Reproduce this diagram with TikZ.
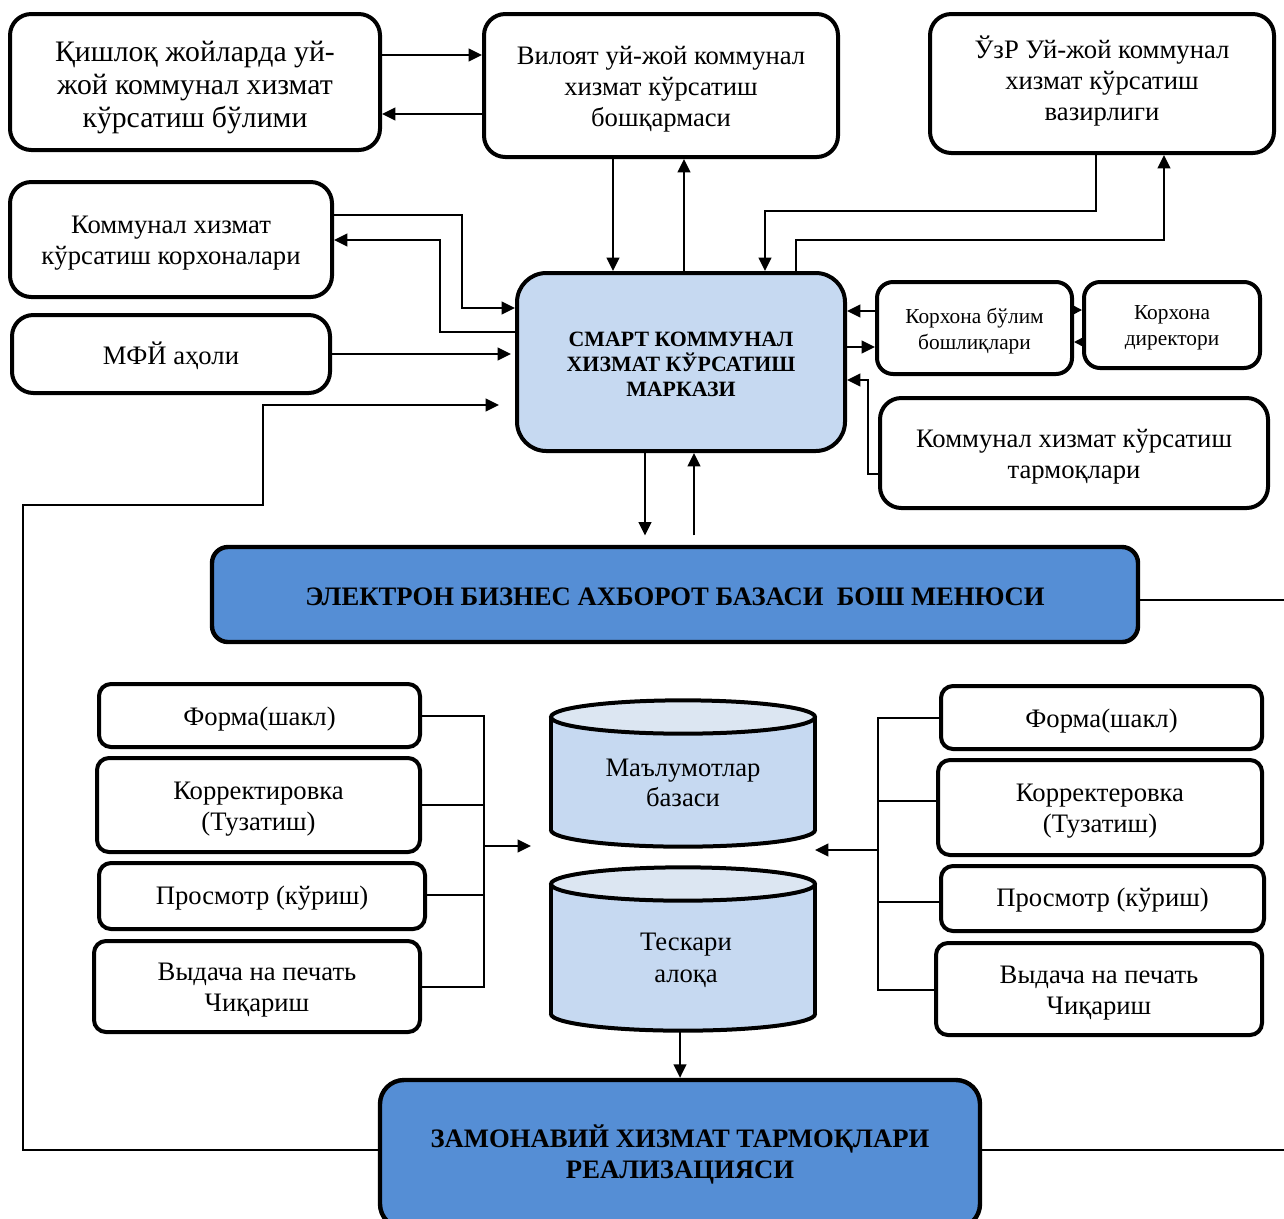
\documentclass[tikz,border=0pt]{standalone}
\usepackage{fontspec}
\setmainfont{Liberation Serif}
\usetikzlibrary{arrows.meta}
\definecolor{lb}{HTML}{C6D9F1}
\definecolor{lt}{HTML}{DCE6F2}
\definecolor{dbl}{HTML}{558ED5}
% \bx[text shift]{name}{x1}{y1}{x2}{y2}{style}{text}
\newcommand{\bx}[8][3]{%
  \node[#7, minimum width={(#5-#3)*0.75pt}, minimum height={(#6-#4)*0.75pt}] (#2) at ({(#3+#5)/2},{(#4+#6)/2}) {};
  \node[#7, draw=none, fill=none, yshift=-#1pt] (#2-t) at (#2.center) {#8};}
\begin{document}
\begin{tikzpicture}[x=0.75pt,y=-0.75pt,
  box/.style={draw, line width=3pt, rounded corners=16pt, align=center, inner sep=0pt, fill=white, font={\fontsize{20pt}{23.25pt}\selectfont}},
  sbox/.style={box, rounded corners=9pt},
  bigbox/.style={box, rounded corners=12pt, fill=dbl, line width=3.3pt, font={\bfseries\fontsize{20pt}{23.25pt}\selectfont}},
  arr/.style={line width=1.5pt, -{Triangle[length=10pt,width=9.5pt]}},
  sarr/.style={line width=1.2pt, -{Triangle[length=7pt,width=7pt]}},
  conn/.style={line width=1.5pt},
  ln/.style={line width=1.1pt},
  cyl/.style={line width=3pt}]
\useasboundingbox (0,0) rectangle (1284,1218);

% top row
\bx[4.5]{q}{10}{14}{380}{150}{box, font={\fontsize{22.3pt}{24.75pt}\selectfont}}{Қишлоқ жойларда уй-\\жой коммунал хизмат\\кўрсатиш бўлими}
\bx{v}{484}{14}{838}{157}{box}{Вилоят уй-жой коммунал\\хизмат кўрсатиш\\бошқармаси}
\bx[-2]{u}{930}{14}{1274}{153}{box}{ЎзР Уй-жой коммунал\\хизмат кўрсатиш\\вазирлиги}
% left
\bx{k}{10}{182}{332}{297}{box}{Коммунал хизмат\\кўрсатиш корхоналари}
\bx[1]{m}{12}{315}{330}{393}{box}{МФЙ аҳоли}
% center
\bx[1.5]{s}{517}{273}{845}{451}{box, rounded corners=22pt, fill=lb, font={\bfseries\fontsize{16.4pt}{18.75pt}\selectfont}}{СМАРТ КОММУНАЛ\\ХИЗМАТ КЎРСАТИШ\\МАРКАЗИ}
% right
\bx[2]{b}{877}{282}{1072}{374}{sbox, rounded corners=12pt, font={\fontsize{16pt}{19.5pt}\selectfont}}{Корхона бўлим\\бошлиқлари}
\bx[2]{d}{1084}{282}{1260}{368}{sbox, rounded corners=12pt, font={\fontsize{16pt}{19.5pt}\selectfont}}{Корхона\\директори}
\bx{t}{880}{398}{1268}{508}{box}{Коммунал хизмат кўрсатиш\\тармоқлари}
% main menu
\bx[2]{e}{212}{547}{1138}{642}{bigbox}{ЭЛЕКТРОН БИЗНЕС АХБОРОТ БАЗАСИ\ \ БОШ МЕНЮСИ}
% left list
\bx{l1}{99}{684}{420}{747}{sbox}{Форма(шакл)}
\bx{l2}{97}{758}{420}{852}{sbox}{Корректировка\\(Тузатиш)}
\bx[1.5]{l3}{99}{863}{425}{929}{sbox}{Просмотр (кўриш)}
\bx{l4}{94}{941}{420}{1032}{sbox}{Выдача на печать\\Чиқариш}
% right list
\bx{r1}{941}{686}{1262}{749}{sbox}{Форма(шакл)}
\bx{r2}{938}{760}{1262}{855}{sbox}{Корректеровка\\(Тузатиш)}
\bx[1.5]{r3}{941}{866}{1264}{931}{sbox}{Просмотр (кўриш)}
\bx{r4}{936}{943}{1262}{1035}{sbox}{Выдача на печать\\Чиқариш}
% bottom
\bx[0]{z}{380}{1080}{980}{1228}{bigbox, rounded corners=18pt}{ЗАМОНАВИЙ ХИЗМАТ ТАРМОҚЛАРИ\\РЕАЛИЗАЦИЯСИ}

% cylinders
\foreach \yt/\yb in {717/830, 884/1014}{
  \fill[lb] (683,\yb) ellipse [x radius=99pt, y radius=12.5pt];
  \fill[lb] (551,\yt) rectangle (815,\yb);
  \begin{scope}
    \clip (540,\yb) rectangle (830,\yb+30);
    \draw[cyl] (683,\yb) ellipse [x radius=99pt, y radius=12.5pt];
  \end{scope}
  \draw[cyl] (551,\yt) -- (551,\yb);
  \draw[cyl] (815,\yt) -- (815,\yb);
  \filldraw[cyl, fill=lt] (683,\yt) ellipse [x radius=99pt, y radius=12.5pt];
}
\node[align=center, inner sep=0pt, font={\fontsize{20pt}{23pt}\selectfont}] (c1) at (683,783) {Маълумотлар\\базаси};
\node[align=center, inner sep=0pt, font={\fontsize{20pt}{24pt}\selectfont}] (c2) at (686,960) {Тескари\\алоқа};
\coordinate (c2b) at (680,1031);

% connectors top
\draw[arr] (q.east |- 0,55) -- (v.west |- 0,55);
\draw[arr] (v.west |- 0,114) -- (q.east |- 0,114);
\draw[arr] (v.south -| 613,0) -- (s.north -| 613,0);
\draw[arr] (s.north -| 684,0) -- (v.south -| 684,0);
\draw[arr] (u.south -| 1096,0) |- (765,211) -- (s.north -| 765,0);
\draw[arr] (s.north -| 796,0) |- (1164,240) -- (u.south -| 1164,0);
% left connectors
\draw[arr] (k.east |- 0,215) -| (462,308) -- (s.west |- 0,308);
\draw[arr] (s.west |- 0,332) -| (440,240) -- (k.east |- 0,240);
\draw[arr] (m.east |- 0,354) -- ([xshift=-3pt]s.west |- 0,354);
\draw[arr, shorten >=12pt] (z.west |- 0,1150) -| (23,505) -| (263,405) -- (s.west |- 0,405);
% right connectors
\draw[arr] (b.west |- 0,311) -- (s.east |- 0,311);
\draw[arr] (s.east |- 0,347) -- (b.west |- 0,347);
\draw[sarr] (b.east |- 0,310) -- (d.west |- 0,310);
\draw[sarr] (d.west |- 0,342) -- (b.east |- 0,342);
\draw[arr] (t.west |- 0,474) -| (868,380) -- (s.east |- 0,380);
% center vertical
\draw[arr, shorten >=7pt] (s.south -| 645,0) -- (e.north -| 645,0);
\draw[arr, shorten <=7pt] (e.north -| 694,0) -- (s.south -| 694,0);
\coordinate (eR) at (1290,600);
\draw[conn] (e.east |- eR) -- (eR);
\coordinate (zR) at (1290,1150);
\draw[conn] (z.east |- zR) -- (zR);
% brackets left
\coordinate (lj) at (484,846);
\coordinate (la) at (531,846);
\draw[ln] (l1.east |- 0,716) -- (484,716) -- (484,987) -- (l4.east |- 0,987);
\draw[ln] (l2.east |- 0,805) -- (484,805);
\draw[ln] (l3.east |- 0,895) -- (484,895);
\draw[arr] (lj) -- (la);
% brackets right
\coordinate (rj) at (878,850);
\coordinate (ra) at (815,850);
\draw[ln] (r1.west |- 0,718) -- (878,718) -- (878,990) -- (r4.west |- 0,990);
\draw[ln] (r2.west |- 0,801) -- (878,801);
\draw[ln] (r3.west |- 0,902) -- (878,902);
\draw[arr] (rj) -- (ra);
% to bottom
\draw[arr, line width=1.3pt] (c2b) -- (z.north -| c2b);
\end{tikzpicture}
\end{document}
